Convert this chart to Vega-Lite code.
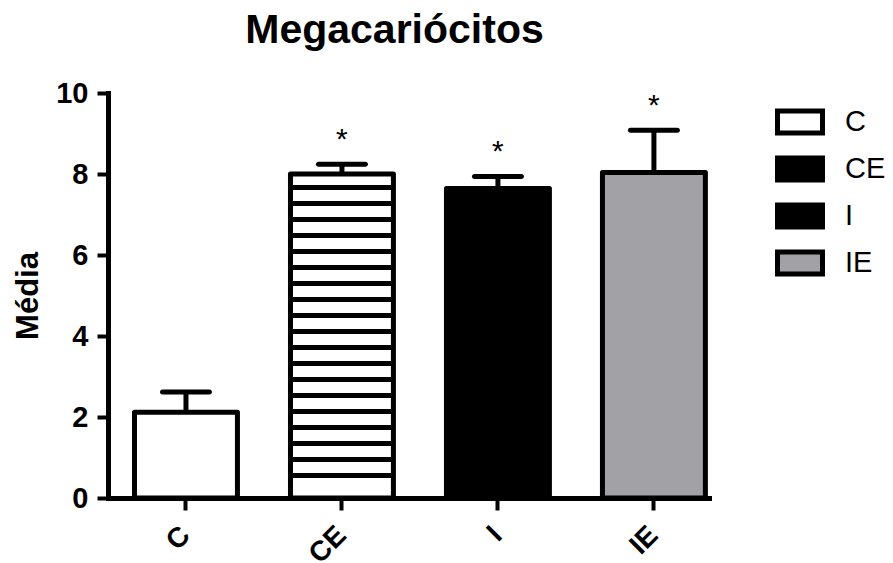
{
  "$schema": "https://vega.github.io/schema/vega-lite/v6.json",
  "autosize": "none",
  "width": 601,
  "height": 405,
  "padding": {"left": 108, "top": 93, "right": 184, "bottom": 65},
  "background": "white",
  "title": {
    "text": "Megacariócitos",
    "font": "Liberation Sans",
    "fontSize": 41,
    "fontWeight": "bold",
    "color": "black",
    "anchor": "middle",
    "frame": "group",
    "dx": -14,
    "offset": 27
  },
  "data": {
    "values": [
      {"group": "C", "mean": 2.12, "upper": 2.62, "sig": ""},
      {"group": "CE", "mean": 8.0, "upper": 8.24, "sig": "*"},
      {"group": "I", "mean": 7.64, "upper": 7.94, "sig": "*"},
      {"group": "IE", "mean": 8.04, "upper": 9.08, "sig": "*"}
    ]
  },
  "encoding": {
    "x": {
      "field": "group",
      "type": "nominal",
      "sort": ["C", "CE", "I", "IE"],
      "scale": {"paddingInner": 0.34, "paddingOuter": 0.0965, "align": 0.88},
      "axis": {
        "title": null,
        "labelAngle": -45,
        "labelAlign": "right",
        "labelBaseline": "middle",
        "labelFont": "Liberation Sans",
        "labelFontSize": 28,
        "labelFontWeight": "bold",
        "labelColor": "black",
        "labelPadding": 21,
        "tickSize": 12,
        "tickWidth": 4,
        "tickColor": "black",
        "domainColor": "black",
        "domainWidth": 5,
        "domainCap": "square"
      }
    }
  },
  "layer": [
    {
      "mark": {"type": "rule", "stroke": "black", "strokeWidth": 5},
      "encoding": {
        "y": {"field": "mean", "type": "quantitative"},
        "y2": {"field": "upper"}
      }
    },
    {
      "mark": {"type": "tick", "color": "black", "size": 52, "thickness": 5, "cornerRadius": 2.5, "opacity": 1},
      "encoding": {
        "y": {"field": "upper", "type": "quantitative"}
      }
    },
    {
      "mark": {"type": "bar", "stroke": "black", "strokeWidth": 5, "strokeJoin": "round", "opacity": 1},
      "encoding": {
        "y": {
          "field": "mean",
          "type": "quantitative",
          "scale": {"domain": [0, 10], "nice": false},
          "axis": {
            "title": "Média",
            "titleFont": "Liberation Sans",
            "titleFontSize": 31,
            "titleFontWeight": "bold",
            "titleColor": "black",
            "titlePadding": 11,
            "values": [0, 2, 4, 6, 8, 10],
            "grid": false,
            "labelFont": "Liberation Sans",
            "labelFontSize": 29,
            "labelFontWeight": "bold",
            "labelColor": "black",
            "labelPadding": 9,
            "tickSize": 11,
            "tickWidth": 4,
            "tickColor": "black",
            "domainColor": "black",
            "domainWidth": 5,
            "domainCap": "square"
          }
        },
        "fill": {
          "condition": {
            "test": "datum.group === 'CE'",
            "value": {
              "gradient": "linear", "x1": 0, "y1": 0, "x2": 0, "y2": 1,
              "stops": [
                {"offset": 0, "color": "white"},
                {"offset": 0.0333, "color": "white"}, {"offset": 0.0333, "color": "black"}, {"offset": 0.0487, "color": "black"}, {"offset": 0.0487, "color": "white"},
                {"offset": 0.0827, "color": "white"}, {"offset": 0.0827, "color": "black"}, {"offset": 0.0981, "color": "black"}, {"offset": 0.0981, "color": "white"},
                {"offset": 0.1320, "color": "white"}, {"offset": 0.1320, "color": "black"}, {"offset": 0.1474, "color": "black"}, {"offset": 0.1474, "color": "white"},
                {"offset": 0.1814, "color": "white"}, {"offset": 0.1814, "color": "black"}, {"offset": 0.1968, "color": "black"}, {"offset": 0.1968, "color": "white"},
                {"offset": 0.2307, "color": "white"}, {"offset": 0.2307, "color": "black"}, {"offset": 0.2461, "color": "black"}, {"offset": 0.2461, "color": "white"},
                {"offset": 0.2801, "color": "white"}, {"offset": 0.2801, "color": "black"}, {"offset": 0.2955, "color": "black"}, {"offset": 0.2955, "color": "white"},
                {"offset": 0.3294, "color": "white"}, {"offset": 0.3294, "color": "black"}, {"offset": 0.3448, "color": "black"}, {"offset": 0.3448, "color": "white"},
                {"offset": 0.3788, "color": "white"}, {"offset": 0.3788, "color": "black"}, {"offset": 0.3942, "color": "black"}, {"offset": 0.3942, "color": "white"},
                {"offset": 0.4281, "color": "white"}, {"offset": 0.4281, "color": "black"}, {"offset": 0.4435, "color": "black"}, {"offset": 0.4435, "color": "white"},
                {"offset": 0.4775, "color": "white"}, {"offset": 0.4775, "color": "black"}, {"offset": 0.4929, "color": "black"}, {"offset": 0.4929, "color": "white"},
                {"offset": 0.5268, "color": "white"}, {"offset": 0.5268, "color": "black"}, {"offset": 0.5422, "color": "black"}, {"offset": 0.5422, "color": "white"},
                {"offset": 0.5762, "color": "white"}, {"offset": 0.5762, "color": "black"}, {"offset": 0.5916, "color": "black"}, {"offset": 0.5916, "color": "white"},
                {"offset": 0.6255, "color": "white"}, {"offset": 0.6255, "color": "black"}, {"offset": 0.6409, "color": "black"}, {"offset": 0.6409, "color": "white"},
                {"offset": 0.6749, "color": "white"}, {"offset": 0.6749, "color": "black"}, {"offset": 0.6903, "color": "black"}, {"offset": 0.6903, "color": "white"},
                {"offset": 0.7242, "color": "white"}, {"offset": 0.7242, "color": "black"}, {"offset": 0.7396, "color": "black"}, {"offset": 0.7396, "color": "white"},
                {"offset": 0.7736, "color": "white"}, {"offset": 0.7736, "color": "black"}, {"offset": 0.7890, "color": "black"}, {"offset": 0.7890, "color": "white"},
                {"offset": 0.8229, "color": "white"}, {"offset": 0.8229, "color": "black"}, {"offset": 0.8383, "color": "black"}, {"offset": 0.8383, "color": "white"},
                {"offset": 0.8723, "color": "white"}, {"offset": 0.8723, "color": "black"}, {"offset": 0.8877, "color": "black"}, {"offset": 0.8877, "color": "white"},
                {"offset": 0.9216, "color": "white"}, {"offset": 0.9216, "color": "black"}, {"offset": 0.9370, "color": "black"}, {"offset": 0.9370, "color": "white"},
                {"offset": 1, "color": "white"}
              ]
            }
          },
          "field": "group",
          "type": "nominal",
          "scale": {"domain": ["C", "CE", "I", "IE"], "range": ["white", "black", "black", "#a2a1a6"]},
          "legend": {
            "title": null,
            "orient": "right",
            "offset": 62,
            "padding": 4,
            "symbolType": "M-1,-0.49H1V0.49H-1Z",
            "symbolSize": 2025,
            "symbolStrokeColor": "black",
            "symbolStrokeWidth": 5,
            "symbolOpacity": 1,
            "labelFont": "Liberation Sans",
            "labelFontSize": 29,
            "labelColor": "black",
            "labelOffset": 20,
            "rowPadding": 0
          }
        }
      }
    },
    {
      "mark": {"type": "text", "font": "Liberation Sans", "fontSize": 30, "fontWeight": "normal", "color": "black", "baseline": "alphabetic", "dy": -15},
      "encoding": {
        "y": {"field": "upper", "type": "quantitative"},
        "text": {"field": "sig"}
      }
    }
  ],
  "config": {
    "view": {"stroke": null}
  }
}
